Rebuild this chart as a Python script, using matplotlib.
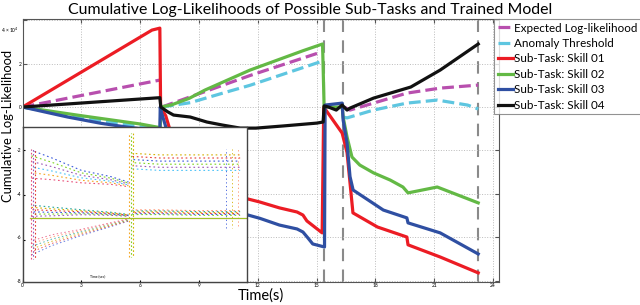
import numpy as np
import matplotlib
matplotlib.use("Agg")
import matplotlib.pyplot as plt

plt.rcParams['font.family'] = ['Lato', 'DejaVu Sans']

# === Main chart data (values in units of 1e4) ===
nan = np.nan

red_t = [0, 6.6, 7.0, 7.04, 7.3, 7.5, 8.0, 9.0, 10.0, 11.1, 12.1, 13.1, 14.0, 14.3, 14.5, 15.28, 15.36,
         16.3, 16.55, 16.85, 18.1, 19.6, 19.66, 21.3, 23.24]
red_v = [0, 3.54, 3.63, 0, -0.4, -1.0, -2.0, -3.0, -3.7, -4.14, -4.37, -4.64, -4.83, -4.97, -5.24, -5.79, 0,
         -1.2, -2.1, -4.87, -5.52, -5.98, -6.34, -6.9, -7.63]

green_t = [0, 3.0, 6.0, 7.02, 7.06, 7.6, 8.5, 9.3, 11.6, 14.3, 15.3, 15.38, 16.3,
           16.35, 16.55, 16.8, 17.2, 17.9, 18.75, 19.4, 19.66, 21.15, 23.24]
green_v = [0, -0.4, -0.78, -0.95, 0, 0.1, 0.4, 0.78, 1.7, 2.59, 2.9, 0, 0,
           -0.46, -1.38, -2.3, -2.67, -3.03, -3.36, -3.68, -3.95, -3.68, -4.41]

blue_t = [0, 2.3, 4.0, 5.3, 7.0, 7.02, 7.1, 7.3, 7.6, 8.5, 10.0, 11.1, 12.1, 13.1, 14.0, 14.3, 14.55, 14.8,
          15.4, 15.43, 16.3, 16.35, 16.55, 16.7, 16.86, 18.4, 19.6, 19.66, 21.3, 23.24]
blue_v = [0, -0.46, -0.75, -0.92, -1.1, 0, -0.3, -0.9, -1.8, -3.2, -4.3, -4.87, -5.12, -5.43, -5.61, -5.75,
          -6.02, -6.3, -6.44, 0.09, 0.18, -0.6, -1.66, -3.2, -3.82, -4.74, -5.1, -5.33, -5.79, -6.76]

black_t = [0, 7.0, 7.05, 7.4, 7.7, 8.55, 9.4, 10.2, 11.1, 11.9, 13.3, 15.0, 15.33, 15.38, 15.6, 16.0,
           16.3, 16.55, 16.7, 17.9, 19.8, 21.3, 23.24]
black_v = [0, 0.43, 0, -0.22, -0.37, -0.46, -0.69, -0.83, -0.97, -0.97, -0.87, -0.74, -0.69, 0.05, 0,
           -0.14, 0.09, -0.14, -0.05, 0.41, 0.92, 1.7, 2.9]

expected_t = [0, 7.0, nan, 7.1, 11.6, 15.3, nan, 16.4, 16.7, 17.9, 19.6, 21.3, 23.24]
expected_v = [0, 1.24, nan, 0, 1.45, 2.55, nan, 0, -0.14, 0.18, 0.64, 0.87, 1.01]

threshold_t = [0, 3.5, 7.0, nan, 7.1, 8.55, 10.4, 11.6, 15.25, nan, 16.35, 16.55, 17.9, 19.6, 21.15, 22.7, 23.24]
threshold_v = [0, -0.55, -1.05, nan, 0, 0.2, 0.69, 1.0, 2.1, nan, -0.46, -0.5, -0.14, 0.18, 0.32, 0.09, -0.09]

event_times = [15.38, 16.35, 23.24]

x_tick_labels = ['0', '3', '6', '9', '12', '15', '18', '21', '24']
y_tick_labels = ['-8', '-6', '-4', '-2', '0', '2', '']

# === Inset data (normalised height 0..1) ===
ins_ta = [0.45, 1.5, 3.0, 4.5, 5.4]
ins_upper_a = [0.76, 0.73, 0.68, 0.655, 0.63]
ins_upper_a_spread = [0.09, 0.07, 0.04, 0.025, 0.015]
ins_mid_a = [0.46, 0.455, 0.45, 0.44, 0.43]
ins_low_a = [0.22, 0.27, 0.32, 0.37, 0.40]
ins_tb = [5.6, 7.0, 9.0, 11.1]
ins_upper_b = [0.78, 0.77, 0.77, 0.77]
ins_mid_b = [0.45, 0.45, 0.445, 0.445]
ins_base_t = [0.4, 11.4]
ins_base_v = [0.41, 0.41]

# === Figure ===
fig = plt.figure(figsize=(6.4, 3.05), dpi=100)
ax = fig.add_axes([22.6 / 640, 23 / 305, (499 - 22.6) / 640, 263 / 305])

lw = 2.3
ax.plot(expected_t, expected_v, '--', color='#b84fae', lw=lw, label='Expected Log-likelihood')
ax.plot(threshold_t, threshold_v, '--', color='#5ec6e0', lw=lw, label='Anomaly Threshold')
ax.plot(red_t, red_v, color='#ec1c24', lw=lw, label='Sub-Task: Skill 01')
ax.plot(green_t, green_v, color='#63b945', lw=lw, label='Sub-Task: Skill 02')
ax.plot(blue_t, blue_v, color='#2f4fa2', lw=lw, label='Sub-Task: Skill 03')
ax.plot(black_t, black_v, color='#111111', lw=lw, label='Sub-Task: Skill 04')

for et in event_times:
    ax.axvline(et, color='#8a8a8a', lw=1.5, ls=(0, (6, 4)), zorder=1)

ax.set_xlim(0, 24.3)
ax.set_ylim(-8.05, 4.05)
ax.set_xticks(range(0, 25, 3))
ax.set_xticklabels(x_tick_labels)
ax.set_yticks(range(-8, 5, 2))
ax.set_yticklabels(y_tick_labels)
ax.tick_params(labelsize=3.5, direction='in', length=3, top=True, right=True, pad=0.8, color='#555555')
ax.grid(True, ls=':', color='#bbbbbb', lw=0.7)
for s in ax.spines.values():
    s.set_color('#555555')
    s.set_linewidth(0.8)

fig.text(1 / 640, 1 - 30 / 305, '4 \u00d7 10$^4$', fontsize=3.5, va='center')
fig.text(310 / 640, 1 - 10 / 305, 'Cumulative Log-Likelihoods of Possible Sub-Tasks and Trained Model',
         ha='center', va='center', fontsize=11.4)
fig.text(8 / 640, 1 - 126 / 305, 'Cumulative Log-Likelihood', rotation=90, ha='center', va='center',
         fontsize=9.4)
fig.text(261 / 640, 1 - 296 / 305, 'Time(s)', ha='center', va='center', fontsize=10.5)

leg = ax.legend(loc='upper left', bbox_to_anchor=(494 / 640, 1 - 19 / 305), bbox_transform=fig.transFigure,
                fontsize=8.4, handlelength=1.3, handletextpad=0.15, borderpad=0.3, labelspacing=0.38,
                frameon=True, fancybox=False, borderaxespad=0)
leg.get_frame().set_edgecolor('#777777')
leg.get_frame().set_linewidth(0.8)

# === Inset ===
ins = fig.add_axes([22.6 / 640, 23 / 305, (247 - 22.6) / 640, 155 / 305], zorder=5)
ins.set_facecolor('white')
cols = ['#e8507a', '#f5a623', '#4fc3f7', '#9b59b6', '#7ed321', '#3b5bdb', '#e53935', '#d4b000', '#26a69a', '#ff8a65']
offsets = [-1, -0.6, -0.2, 0.2, 0.6, 1]

ua = np.array(ins_upper_a)
us = np.array(ins_upper_a_spread)
for i, k in enumerate(offsets):
    c = cols[i % len(cols)]
    ins.plot(ins_ta, ua + k * us, color=c, lw=0.8, ls=(i, (1.5, 2.5)))
    ins.plot(ins_ta, np.array(ins_mid_a) + k * 0.4 * us, color=cols[(i + 3) % len(cols)], lw=0.8, ls=(i, (1.5, 2.5)))
    ins.plot(ins_ta, np.array(ins_low_a) + k * 0.5 * us, color=cols[(i + 5) % len(cols)], lw=0.7,
             ls=(i, (1.5, 2.5)), alpha=0.8)
    ins.plot(ins_tb, np.array(ins_upper_b) + k * 0.05, color=cols[(i + 2) % len(cols)], lw=0.8, ls=(i, (1.5, 2.5)))
    ins.plot(ins_tb, np.array(ins_mid_b) + k * 0.015, color=cols[(i + 4) % len(cols)], lw=0.8, ls=(i, (1.5, 2.5)))

for j, tt in enumerate([0.45, 0.55, 0.65]):
    ins.plot([tt, tt], [0.15, 0.86], color=cols[j * 3 % len(cols)], lw=0.8, ls=(j, (1.5, 2)))
for j, tt in enumerate([5.45, 5.55, 5.65]):
    ins.plot([tt, tt], [0.16, 0.96], color=cols[(j * 3 + 1) % len(cols)], lw=0.8, ls=(j, (1.5, 2)))
for j, tt in enumerate([10.4, 10.7, 11.0]):
    ins.plot([tt, tt], [0.35, 0.86], color=cols[(j * 2 + 5) % len(cols)], lw=0.6, ls=(j, (1.5, 3)))

for c in ['#e53935', '#f5a623', '#7ed321']:
    ins.plot(ins_base_t, ins_base_v, color=c, lw=0.8, alpha=0.7)

ins.set_xlim(0, 11.45)
ins.set_ylim(0, 1)
ins.set_xticks([0, 3, 6, 9])
ins.set_yticks([0.27, 0.56, 0.85])
ins.tick_params(labelbottom=False, labelleft=False, direction='in', length=1.5)
ins.text(0.3, 0.03, 'Time (sec)', transform=ins.transAxes, fontsize=2.5)
for s in ins.spines.values():
    s.set_color('#444444')
    s.set_linewidth(1.0)

fig.savefig('out.png', dpi=100)
